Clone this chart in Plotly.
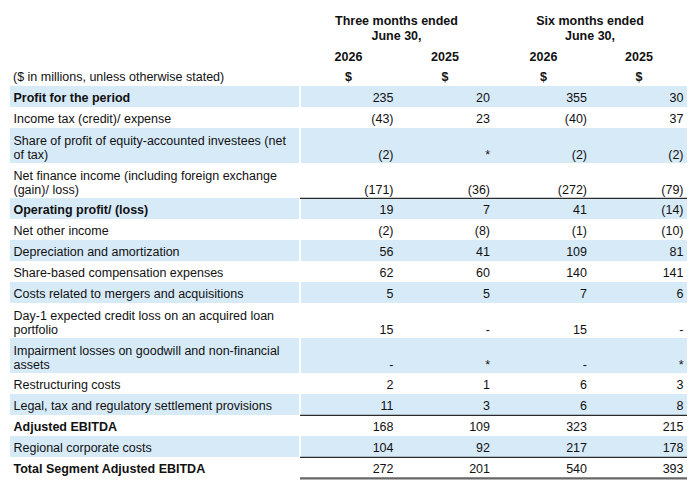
import plotly.graph_objects as go

# rows of the reconciliation table
labels = [
    "Profit for the period",
    "Income tax (credit)/ expense",
    "Share of profit of equity-accounted investees (net\nof tax)",
    "Net finance income (including foreign exchange\n(gain)/ loss)",
    "Operating profit/ (loss)",
    "Net other income",
    "Depreciation and amortization",
    "Share-based compensation expenses",
    "Costs related to mergers and acquisitions",
    "Day-1 expected credit loss on an acquired loan\nportfolio",
    "Impairment losses on goodwill and non-financial\nassets",
    "Restructuring costs",
    "Legal, tax and regulatory settlement provisions",
    "Adjusted EBITDA",
    "Regional corporate costs",
    "Total Segment Adjusted EBITDA",
]
bold_rows = [0, 4, 13, 15]
ruled_rows = [3, 12, 14]      # thin rule under these rows
NIL = "*"                      # amount rounds to zero

# None -> "-"
three_2026 = [235, -43, -2, -171, 19, -2, 56, 62, 5, 15, None, 2, 11, 168, 104, 272]
three_2025 = [20, 23, NIL, -36, 7, -8, 41, 60, 5, None, NIL, 1, 3, 109, 92, 201]
six_2026 = [355, -40, -2, -272, 41, -1, 109, 140, 7, 15, None, 6, 6, 323, 217, 540]
six_2025 = [30, 37, -2, -79, -14, -10, 81, 141, 6, None, NIL, 3, 8, 215, 178, 393]

periods = ["Three months ended", "Six months ended"]
period_end = "June 30,"
years = ["2026", "2025", "2026", "2025"]
unit_label = "($ in millions, unless otherwise stated)"

columns = [three_2026, three_2025, six_2026, six_2025]

# geometry (page pixels); the page body adds an 8px margin
W, H = 700, 493
PAD = 8
TOP = 86.3
ROW1, ROW2, LINE = 21.0, 35.0, 14.3
TXT = 2.0                      # text renders a bit above its anchor
LABEL_L, LABEL_R = 10, 298.5
VAL_L, VAL_R = 300.5, 687
col_right = [393.5, 490, 587, 683.5]
col_center = [348.5, 445, 543.5, 639]
period_center = [396.5, 590]
BAND = "#D7EAF8"
FONT = "Liberation Sans, Arial, sans-serif"
FS = 12.5
INK = "#111111"


def fmt(v):
    if v is None:
        return "-"
    if isinstance(v, str):
        return v
    return f"({abs(v)})" if v < 0 else str(v)


tops, heights = [], []
y = TOP
for lab in labels:
    h = ROW1 if "\n" not in lab else ROW2
    tops.append(y)
    heights.append(h)
    y += h

fig = go.Figure()

# shaded bands
shaded = [i for i in range(len(labels)) if i % 2 == 0]
for left, right in [(LABEL_L, LABEL_R), (VAL_L, VAL_R)]:
    fig.add_trace(go.Bar(
        orientation="h",
        y=[tops[i] + heights[i] / 2 for i in shaded],
        x=[right - left] * len(shaded),
        base=left,
        width=[heights[i] for i in shaded],
        marker_color=BAND, marker_line_width=0,
        hoverinfo="skip",
    ))

# row labels, one point per text line
lx, ly, lt = [], [], []
vy = []
for i, lab in enumerate(labels):
    parts = lab.split("\n")
    first = tops[i] + (10.8 if len(parts) == 1 else 11.4) + TXT
    for k, p in enumerate(parts):
        lx.append(LABEL_L + 3.5)
        ly.append(first + k * LINE)
        lt.append(f"<b>{p}</b>" if i in bold_rows else p)
    vy.append(first + (len(parts) - 1) * LINE)

fig.add_trace(go.Scatter(
    x=lx, y=ly, text=lt, mode="text", textposition="middle right",
    textfont=dict(family=FONT, size=FS, color=INK), hoverinfo="skip",
))

# amounts
for c, vals in enumerate(columns):
    fig.add_trace(go.Scatter(
        x=[col_right[c]] * len(vals), y=vy, text=[fmt(v) for v in vals],
        mode="text", textposition="middle left",
        textfont=dict(family=FONT, size=FS, color=INK), hoverinfo="skip",
    ))

# headers
hx, hy, ht = [], [], []
for p, cx in zip(periods, period_center):
    hx += [cx, cx]
    hy += [20 + TXT, 35 + TXT]
    ht += [f"<b>{p}</b>", f"<b>{period_end}</b>"]
for yr, cx in zip(years, col_center):
    hx += [cx, cx]
    hy += [56 + TXT, 76 + TXT]
    ht += [f"<b>{yr}</b>", "<b>$</b>"]
fig.add_trace(go.Scatter(
    x=hx, y=hy, text=ht, mode="text", textposition="middle center",
    textfont=dict(family=FONT, size=FS, color=INK), hoverinfo="skip",
))
fig.add_trace(go.Scatter(
    x=[LABEL_L + 3], y=[76 + TXT], text=[unit_label], mode="text",
    textposition="middle right",
    textfont=dict(family=FONT, size=FS, color=INK), hoverinfo="skip",
))

# rules under subtotals
for i in ruled_rows:
    yb = tops[i] + heights[i]
    fig.add_shape(type="line", xref="x", yref="y", x0=VAL_L - 0.5, x1=VAL_R,
                  y0=yb, y1=yb, line=dict(color="#2b2b2b", width=1.2))
yb = tops[-1] + heights[-1]
fig.add_shape(type="line", xref="x", yref="y", x0=VAL_L - 0.5, x1=VAL_R,
              y0=yb, y1=yb, line=dict(color="#666666", width=2.2))

fig.update_layout(
    width=W - PAD, height=H - PAD,
    margin=dict(l=0, r=0, t=0, b=0),
    paper_bgcolor="white", plot_bgcolor="white",
    showlegend=False, barmode="overlay", bargap=0,
    xaxis=dict(range=[PAD, W], visible=False, fixedrange=True),
    yaxis=dict(range=[H, PAD], visible=False, fixedrange=True),
)

fig.write_html("out.html", config={"displayModeBar": False})
